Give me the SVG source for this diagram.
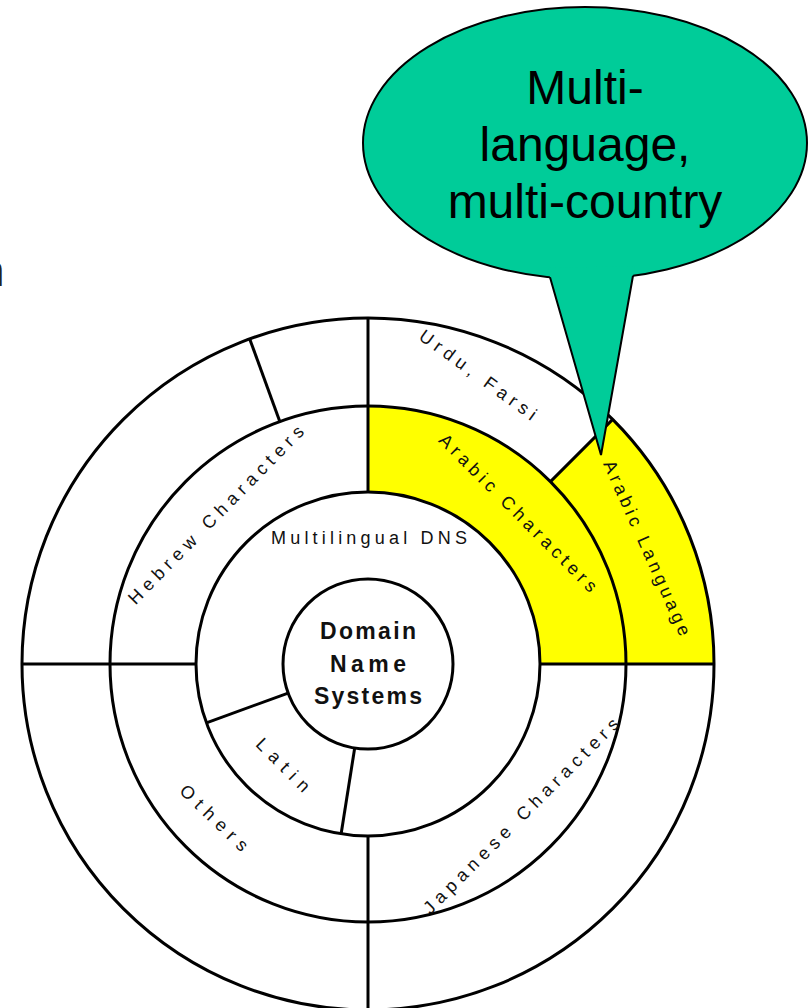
<svg xmlns="http://www.w3.org/2000/svg" width="810" height="1008" viewBox="0 0 810 1008">
<style>
.ring{fill:none;stroke:#000;stroke-width:3}
.div{stroke:#000;stroke-width:3;fill:none}
.lbl{font-family:"Liberation Sans",Arial,sans-serif;font-size:18px;fill:#111;text-anchor:middle}
.ctr{font-family:"Liberation Sans",Arial,sans-serif;font-size:23px;font-weight:bold;fill:#111;text-anchor:middle}
.big{font-family:"Liberation Sans",Arial,sans-serif;font-size:48px;fill:#000;text-anchor:middle}
</style>
<rect width="810" height="1008" fill="#fff"/>
<text x="-20" y="286" style="font-family:'Liberation Sans',Arial,sans-serif;font-size:44px;fill:#222">n</text>

<g id="arabic-characters">
<path d="M540,664 A172,172 0 0 0 368,492 L368,406 A258,258 0 0 1 626,664 Z" fill="#ffff00"/>
<text class="lbl" transform="translate(518,513) rotate(45)" y="6" textLength="215" lengthAdjust="spacing">Arabic Characters</text>
</g>
<g id="arabic-language">
<path d="M626,664 L714,664 A346,346 0 0 0 612.66,419.34 L550.43,481.57 A258,258 0 0 1 626,664 Z" fill="#ffff00"/>
<text class="lbl" transform="translate(647,548) rotate(66)" y="6" textLength="190" lengthAdjust="spacing">Arabic Language</text>
</g>

<g id="rings">
<circle class="ring" cx="368" cy="664" r="346"/>
<circle class="ring" cx="368" cy="664" r="258"/>
<circle class="ring" cx="368" cy="664" r="172"/>
<circle class="ring" cx="368" cy="664" r="85"/>
</g>

<g id="connectors">
<line class="div" x1="368" y1="318" x2="368" y2="492"/>
<line class="div" x1="368" y1="836" x2="368" y2="1010"/>
<line class="div" x1="22" y1="664" x2="196" y2="664"/>
<line class="div" x1="540" y1="664" x2="714" y2="664"/>
<line class="div" x1="550.43" y1="481.57" x2="612.66" y2="419.34"/>
<line class="div" x1="279.8" y1="421.6" x2="249.7" y2="338.9"/>
<line class="div" x1="288.1" y1="693.1" x2="206.4" y2="722.8"/>
<line class="div" x1="354.7" y1="748" x2="341.1" y2="833.9"/>
</g>

<g id="domain-name-systems">
<text class="ctr" x="368" y="639" textLength="96" lengthAdjust="spacing">Domain</text>
<text class="ctr" x="368" y="672" textLength="76" lengthAdjust="spacing">Name</text>
<text class="ctr" x="368" y="704" textLength="108" lengthAdjust="spacing">Systems</text>
</g>
<g id="multilingual-dns">
<text class="lbl" x="369" y="544" textLength="196" lengthAdjust="spacing">Multilingual DNS</text>
</g>
<g id="urdu-farsi">
<text class="lbl" transform="translate(478,375) rotate(36)" y="6" textLength="140" lengthAdjust="spacing">Urdu, Farsi</text>
</g>
<g id="hebrew-characters">
<text class="lbl" transform="translate(216,515) rotate(-45.5)" y="6" textLength="242" lengthAdjust="spacing">Hebrew Characters</text>
</g>
<g id="latin">
<text class="lbl" transform="translate(283,765) rotate(45)" y="6" textLength="68" lengthAdjust="spacing">Latin</text>
</g>
<g id="others">
<text class="lbl" transform="translate(214,818) rotate(44)" y="6" textLength="87" lengthAdjust="spacing">Others</text>
</g>
<g id="japanese-characters">
<text class="lbl" transform="translate(521,816) rotate(-45)" y="6" textLength="268" lengthAdjust="spacing">Japanese Characters</text>
</g>

<g id="callout">
<ellipse cx="585" cy="143" rx="222" ry="136" fill="#00cc99" stroke="#000" stroke-width="2"/>
<polygon points="548,268 550,277.3 601,455 633,275.8 635,266" fill="#00cc99"/>
<polyline points="550,277.3 601,455 633,275.8" fill="none" stroke="#000" stroke-width="2" stroke-linejoin="miter"/>
<text class="big" x="585" y="104">Multi-</text>
<text class="big" x="585" y="161">language,</text>
<text class="big" x="585" y="218">multi-country</text>
</g>
</svg>
